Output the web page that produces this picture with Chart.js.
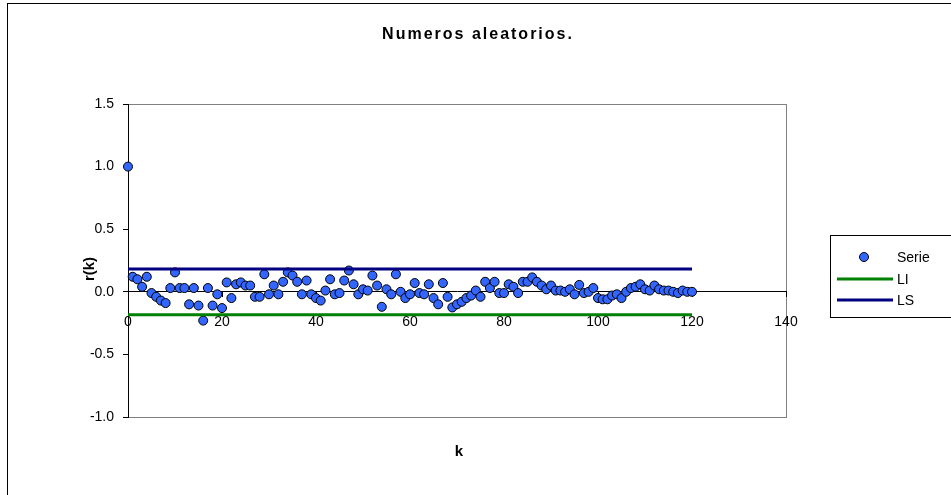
<!DOCTYPE html>
<html>
<head>
<meta charset="utf-8">
<script src="https://cdn.jsdelivr.net/npm/chart.js@4.4.0/dist/chart.umd.min.js"></script>
<style>
  body { margin: 0; background: #fff; }
  #canvas_div { width: 951px; height: 495px; }
</style>
</head>
<body>
<div id="canvas_div"><canvas id="myChart" width="951" height="495"></canvas></div>
<script>
const chartTitle = "Numeros aleatorios.";
const xTitle = "k";
const yTitle = "r(k)";
const seriesNames = ["Serie", "LI", "LS"];

// r(k) for k = 0..120
const rValues = [
  1.0, 0.12, 0.10, 0.04, 0.12, -0.01, -0.04, -0.07, -0.09, 0.03,
  0.155, 0.03, 0.03, -0.10, 0.03, -0.11, -0.23, 0.03, -0.11, -0.02,
  -0.13, 0.075, -0.05, 0.06, 0.075, 0.05, 0.05, -0.04, -0.04, 0.14,
  -0.02, 0.05, -0.02, 0.08, 0.155, 0.13, 0.08, -0.02, 0.09, -0.02,
  -0.05, -0.07, 0.01, 0.10, -0.02, -0.01, 0.09, 0.17, 0.06, -0.02,
  0.02, 0.01, 0.13, 0.05, -0.12, 0.02, -0.02, 0.14, 0.0, -0.05,
  -0.02, 0.07, -0.01, -0.02, 0.06, -0.05, -0.10, 0.07, -0.04, -0.125,
  -0.10, -0.08, -0.05, -0.03, 0.01, -0.04, 0.08, 0.03, 0.08, -0.01,
  -0.01, 0.06, 0.04, -0.01, 0.08, 0.08, 0.115, 0.08, 0.05, 0.02,
  0.05, 0.01, 0.01, 0.0, 0.02, -0.02, 0.055, -0.01, 0.0, 0.03,
  -0.05, -0.06, -0.06, -0.03, -0.02, -0.05, 0.0, 0.03, 0.04, 0.06,
  0.02, 0.01, 0.05, 0.02, 0.01, 0.01, 0.0, -0.01, 0.01, 0.0,
  0.0
];
const limitK = [0, 120];
const liValues = [-0.183, -0.183];
const lsValues = [0.183, 0.183];
const xTicks = [0, 20, 40, 60, 80, 100, 120, 140];
const yTicks = [-1.0, -0.5, 0.0, 0.5, 1.0, 1.5];

const fontFamily = "'Liberation Sans', Arial, sans-serif";

const decorations = {
  id: "decorations",
  beforeDraw: (chart) => {
    const ctx = chart.ctx;
    const a = chart.chartArea;
    ctx.save();
    ctx.fillStyle = "#fff";
    ctx.fillRect(0, 0, chart.width, chart.height);
    ctx.strokeStyle = "#000";
    ctx.lineWidth = 1;
    ctx.strokeRect(7.5, 3.5, 970, 520);
    ctx.strokeStyle = "#808080";
    ctx.strokeRect(a.left + 0.5, a.top + 0.5, a.right - a.left, a.bottom - a.top);
    ctx.restore();
  },
  afterDraw: (chart) => {
    const ctx = chart.ctx;
    ctx.save();
    ctx.fillStyle = "#000";
    ctx.textAlign = "center";
    ctx.textBaseline = "middle";

    ctx.font = "bold 16px " + fontFamily;
    ctx.letterSpacing = "2px";
    ctx.fillText(chartTitle, 478, 35);
    ctx.letterSpacing = "0px";

    ctx.font = "bold 15px " + fontFamily;
    ctx.fillText(xTitle, 459, 452);
    ctx.save();
    ctx.translate(90, 269);
    ctx.rotate(-Math.PI / 2);
    ctx.fillText(yTitle, 0, 0);
    ctx.restore();

    // legend box
    ctx.strokeStyle = "#000";
    ctx.lineWidth = 1;
    ctx.strokeRect(830.5, 235.5, 140, 82);
    const rows = [257, 279, 300];
    ctx.font = "14px " + fontFamily;
    ctx.textAlign = "left";
    chart.data.datasets.forEach((ds, i) => {
      const y = rows[i];
      if (ds.showLine === false) {
        ctx.beginPath();
        ctx.arc(864, y, 4.5, 0, Math.PI * 2);
        ctx.fillStyle = ds.backgroundColor;
        ctx.fill();
        ctx.strokeStyle = ds.borderColor;
        ctx.stroke();
      } else {
        ctx.beginPath();
        ctx.moveTo(837, y);
        ctx.lineTo(893, y);
        ctx.strokeStyle = ds.borderColor;
        ctx.lineWidth = ds.borderWidth;
        ctx.stroke();
        ctx.lineWidth = 1;
      }
      ctx.fillStyle = "#000";
      ctx.fillText(ds.label, 897, y + 1);
    });
    ctx.restore();
  },
};

const config = {
  type: "scatter",
  data: {
    datasets: [
      {
        label: seriesNames[0],
        data: rValues.map((v, k) => ({ x: k, y: v })),
        showLine: false,
        pointRadius: 4.5,
        pointBackgroundColor: "#3366ff",
        backgroundColor: "#3366ff",
        borderColor: "#000",
        pointBorderWidth: 1,
        clip: false,
        order: 1,
      },
      {
        label: seriesNames[1],
        data: limitK.map((k, i) => ({ x: k, y: liValues[i] })),
        showLine: true,
        borderColor: "#008000",
        borderWidth: 3,
        pointRadius: 0,
        order: 0,
      },
      {
        label: seriesNames[2],
        data: limitK.map((k, i) => ({ x: k, y: lsValues[i] })),
        showLine: true,
        borderColor: "#000080",
        borderWidth: 3,
        pointRadius: 0,
        order: 0,
      },
    ],
  },
  options: {
    responsive: false,
    animation: false,
    devicePixelRatio: 1,
    layout: { padding: { top: 104, left: 0, right: 165, bottom: 78 } },
    plugins: {
      legend: { display: false },
      tooltip: { enabled: false },
      title: { display: false },
    },
    scales: {
      x: {
        type: "linear",
        position: { y: 0 },
        min: xTicks[0],
        max: xTicks[xTicks.length - 1],
        afterBuildTicks: (s) => { s.ticks = xTicks.map((v) => ({ value: v })); },
        ticks: {
          color: "#000",
          font: { family: fontFamily, size: 14 },
          padding: 17,
          maxRotation: 0,
          callback: (v) => String(v),
        },
        grid: { drawOnChartArea: false, drawTicks: true, tickLength: 5, tickColor: "#000" },
        border: { display: true, color: "#000", width: 1 },
      },
      y: {
        type: "linear",
        position: "left",
        min: yTicks[0],
        max: yTicks[yTicks.length - 1],
        afterBuildTicks: (s) => { s.ticks = yTicks.map((v) => ({ value: v })); },
        afterFit: (s) => { s.width = 128; },
        ticks: {
          color: "#000",
          font: { family: fontFamily, size: 14 },
          padding: 9,
          callback: (v) => Number(v).toFixed(1),
        },
        grid: { drawOnChartArea: false, drawTicks: true, tickLength: 5, tickColor: "#000" },
        border: { display: true, color: "#000", width: 1 },
      },
    },
  },
  plugins: [decorations],
};

const myChart = new Chart(document.getElementById("myChart"), config);
</script>
</body>
</html>
